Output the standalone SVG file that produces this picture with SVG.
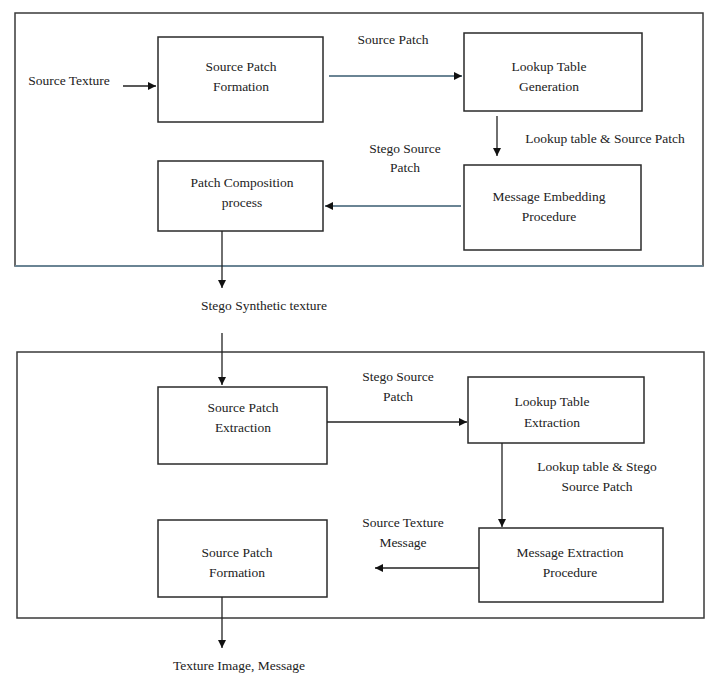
<svg xmlns="http://www.w3.org/2000/svg" width="709" height="675" viewBox="0 0 709 675">
<style>
text{font-family:"Liberation Serif","Times New Roman",serif;font-size:13.5px;fill:#222;text-anchor:middle}
.box{fill:#fff;stroke:#2a2a2a;stroke-width:1.5}
.frame{fill:none;stroke:#3a3a3a;stroke-width:1.5}
.c{fill:none;stroke:#222;stroke-width:1.3}
.s{fill:none;stroke:#6a8494;stroke-width:2.2}
</style>
<defs>
<marker id="ah" viewBox="0 0 10 10" refX="10" refY="5" markerWidth="8" markerHeight="8" markerUnits="userSpaceOnUse" orient="auto">
<path d="M0,0 L10,5 L0,10 Z" fill="#111"/>
</marker>
</defs>
<rect width="709" height="675" fill="#fff"/>
<g id="frame-embedding">
<rect class="frame" x="15" y="13" width="688" height="253"/>
<line x1="15" y1="266" x2="703" y2="266" stroke="#6a8494" stroke-width="2"/>
</g>
<g id="frame-extraction">
<rect class="frame" x="17" y="352" width="687" height="266"/>
</g>
<g id="n-source-patch-formation">
<rect class="box" x="158" y="37" width="165" height="85"/>
<text x="241" y="71">Source Patch</text>
<text x="241" y="91">Formation</text>
</g>
<g id="n-lookup-table-generation">
<rect class="box" x="464" y="33" width="178" height="78"/>
<text x="549" y="71">Lookup Table</text>
<text x="549" y="91">Generation</text>
</g>
<g id="n-message-embedding">
<rect class="box" x="464" y="165" width="177" height="85"/>
<text x="549" y="201">Message Embedding</text>
<text x="549" y="221">Procedure</text>
</g>
<g id="n-patch-composition">
<rect class="box" x="158" y="161" width="165" height="70"/>
<text x="242" y="187">Patch Composition</text>
<text x="242" y="207">process</text>
</g>
<g id="n-source-patch-extraction">
<rect class="box" x="158" y="387" width="169" height="77"/>
<text x="243" y="412">Source Patch</text>
<text x="243" y="432">Extraction</text>
</g>
<g id="n-lookup-table-extraction">
<rect class="box" x="468" y="377" width="176" height="66"/>
<text x="552" y="406">Lookup Table</text>
<text x="552" y="427">Extraction</text>
</g>
<g id="n-message-extraction">
<rect class="box" x="479" y="528" width="184" height="74"/>
<text x="570" y="557">Message Extraction</text>
<text x="570" y="577">Procedure</text>
</g>
<g id="n-source-patch-formation-2">
<rect class="box" x="158" y="520" width="169" height="77"/>
<text x="237" y="557">Source Patch</text>
<text x="237" y="577">Formation</text>
</g>
<g id="connectors">
<line class="c" x1="123" y1="86" x2="156" y2="86" marker-end="url(#ah)"/>
<line class="s" x1="329" y1="76" x2="462" y2="76" marker-end="url(#ah)"/>
<line class="c" x1="497" y1="116" x2="497" y2="156" stroke="#555" marker-end="url(#ah)"/>
<line class="s" x1="461" y1="206" x2="325" y2="206" marker-end="url(#ah)"/>
<line class="c" x1="222" y1="231" x2="222" y2="288" stroke="#555" marker-end="url(#ah)"/>
<line class="c" x1="222" y1="333" x2="222" y2="385" marker-end="url(#ah)"/>
<line class="c" x1="327" y1="422" x2="467" y2="422" marker-end="url(#ah)"/>
<line class="c" x1="502" y1="443" x2="502" y2="527" marker-end="url(#ah)"/>
<line class="c" x1="479" y1="568" x2="375" y2="568" marker-end="url(#ah)"/>
<line class="c" x1="222" y1="597" x2="222" y2="648" marker-end="url(#ah)"/>
</g>
<g id="labels">
<text x="69" y="85">Source Texture</text>
<text x="393" y="44">Source Patch</text>
<text x="605" y="143">Lookup table &amp; Source Patch</text>
<text x="405" y="153">Stego Source</text>
<text x="405" y="172">Patch</text>
<text x="264" y="310">Stego Synthetic texture</text>
<text x="398" y="381">Stego Source</text>
<text x="398" y="401">Patch</text>
<text x="597" y="471">Lookup table &amp; Stego</text>
<text x="597" y="491">Source Patch</text>
<text x="403" y="527">Source Texture</text>
<text x="403" y="547">Message</text>
<text x="239" y="670">Texture Image, Message</text>
</g>
</svg>
